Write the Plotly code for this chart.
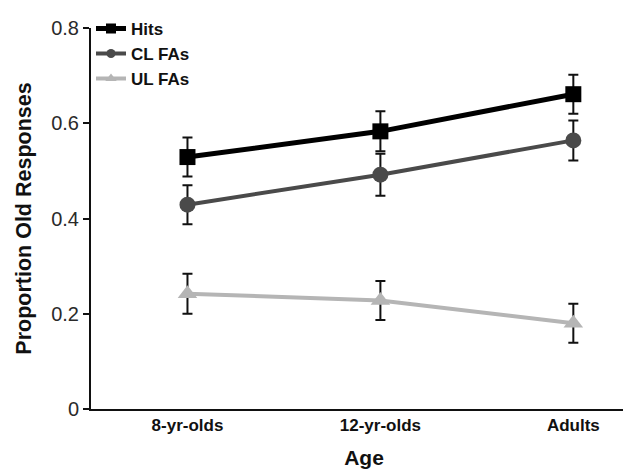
import plotly.graph_objects as go

categories = ["8-yr-olds", "12-yr-olds", "Adults"]
hits = [0.529, 0.583, 0.661]
hits_err = [0.041, 0.042, 0.041]
cl_fas = [0.429, 0.492, 0.564]
cl_err = [0.041, 0.044, 0.042]
ul_fas = [0.242, 0.228, 0.180]
ul_err = [0.042, 0.041, 0.041]
y_ticks = [0, 0.2, 0.4, 0.6, 0.8]
y_tick_labels = ["0", "0.2", "0.4", "0.6", "0.8"]

FONT = "Liberation Sans, Arial, sans-serif"
xpos = list(range(len(categories)))

fig = go.Figure()

def add(name, vals, errs, color, symbol, width, size, legsize):
    fig.add_trace(go.Scatter(
        x=xpos, y=vals, name=name, mode="lines+markers", showlegend=False,
        line=dict(color=color, width=width),
        marker=dict(color=color, symbol=symbol, size=size),
        error_y=dict(type="data", array=errs, visible=True,
                     color="#111111", thickness=2, width=5),
    ))
    # legend entry with smaller marker, like the reference key
    fig.add_trace(go.Scatter(
        x=[None], y=[None], name=name, mode="lines+markers", showlegend=True,
        line=dict(color=color, width=width),
        marker=dict(color=color, symbol=symbol, size=legsize),
    ))

add("Hits", hits, hits_err, "#000000", "square", 5, 16, 10)
add("CL FAs", cl_fas, cl_err, "#4a4a4a", "circle", 4, 16, 9)
add("UL FAs", ul_fas, ul_err, "#b5b5b5", "triangle-up", 4, 17, 10)

fig.update_layout(
    width=631, height=469,
    margin=dict(l=83, r=2, t=20, b=68),
    paper_bgcolor="white", plot_bgcolor="white",
    font=dict(family=FONT, color="#111111"),
    showlegend=True,
    legend=dict(x=0.0, y=1.045, xanchor="left", yanchor="top",
                font=dict(family=FONT, size=17, weight="bold", color="#111111"),
                itemsizing="trace", tracegroupgap=0,
                bgcolor="rgba(0,0,0,0)", itemwidth=30),
    xaxis=dict(
        range=[-0.5, 2.33], tickmode="array", tickvals=xpos, ticktext=categories,
        showline=True, linecolor="#111111", linewidth=2, showgrid=False,
        zeroline=False, ticks="",
        tickfont=dict(family=FONT, size=17, weight="bold", color="#111111"),
        title=dict(text="Age", font=dict(family=FONT, size=21, weight="bold", color="#111111"),
                   standoff=16),
    ),
    yaxis=dict(
        range=[0, 0.8], tickmode="array", tickvals=y_ticks, ticktext=y_tick_labels,
        showline=True, linecolor="#111111", linewidth=2, showgrid=False,
        zeroline=False, ticks="outside", ticklen=6, tickwidth=2, tickcolor="#111111",
        tickfont=dict(family=FONT, size=20, color="#2a2a2a"),
        title=dict(text="Proportion Old Responses",
                   font=dict(family=FONT, size=21.5, weight="bold", color="#111111"),
                   standoff=14),
    ),
)

fig.write_html("out.html")
